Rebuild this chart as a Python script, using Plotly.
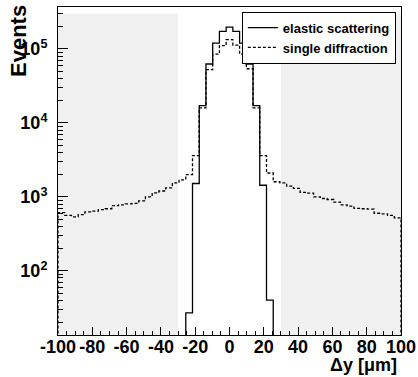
import numpy as np
import plotly.graph_objects as go

# ---- data -------------------------------------------------------------
x_min, x_max, n_bins = -100.0, 100.0, 51

elastic_counts = [0] * 19 + [
    27, 1515, 17100, 62700, 120000, 173000, 198000,
    173000, 120000, 62700, 17100, 1435, 40] + [0] * 19

diffraction_counts = [
    610, 560, 537, 575, 625, 640, 670, 690, 760, 780, 805, 815, 880, 1000,
    1130, 1200, 1320, 1540,
    1700, 2000, 3600, 16000, 52500, 85000, 111000, 134000, 113000, 85000,
    54000, 16000, 3600, 2100, 1600,
    1540, 1400, 1300, 1150, 1120, 1000, 950, 920, 850, 780, 750, 700, 690,
    680, 600, 590, 560, 520]

series_names = ["elastic scattering", "single diffraction"]
x_tick_vals = [-100, -80, -60, -40, -20, 0, 20, 40, 60, 80, 100]
x_tick_text = ["-100", "-80", "-60", "-40", "-20", "0", "20", "40", "60", "80", "100"]
y_tick_vals = [1e2, 1e3, 1e4, 1e5]
y_tick_text = ["10<sup>2</sup>", "10<sup>3</sup>", "10<sup>4</sup>", "10<sup>5</sup>"]
shaded_ranges = [(-100, -30), (30, 100)]

# ---- helpers ------------------------------------------------------------
edges = np.linspace(x_min, x_max, n_bins + 1)
FLOOR = 1.0  # below the visible range; used for empty bins


def step_xy(values):
    xs, ys = [edges[0]], [FLOOR]
    for i, v in enumerate(values):
        v = v if v > 0 else FLOOR
        xs += [edges[i], edges[i + 1]]
        ys += [v, v]
    xs.append(edges[-1])
    ys.append(FLOOR)
    return xs, ys


FONT = "Liberation Sans, Arial, Helvetica, sans-serif"

fig = go.Figure()

ex, ey = step_xy(elastic_counts)
fig.add_trace(go.Scatter(x=ex, y=ey, mode="lines", name="<b>" + series_names[0] + "</b>",
                         line=dict(color="black", width=1.3)))
dx, dy = step_xy(diffraction_counts)
fig.add_trace(go.Scatter(x=dx, y=dy, mode="lines", name="<b>" + series_names[1] + "</b>",
                         line=dict(color="black", width=1.3, dash="3px,2px")))

for a, b in shaded_ranges:
    fig.add_shape(type="rect", xref="x", yref="paper", x0=a, x1=b, y0=0, y1=0.98,
                  fillcolor="#f0f0f0", line=dict(width=0), layer="below")

y_lo, y_hi = 1.131, 5.568

fig.update_layout(
    width=418, height=377,
    margin=dict(l=58, r=17, t=7, b=42, autoexpand=False),
    paper_bgcolor="white", plot_bgcolor="white",
    font=dict(family=FONT, size=18, color="black", weight="bold"),
    showlegend=True,
    legend=dict(x=0.985, y=0.986, xanchor="right", yanchor="top",
                bgcolor="white", bordercolor="black", borderwidth=1,
                font=dict(family=FONT, size=13, color="black", weight="bold"),
                tracegroupgap=0, itemwidth=30),
    xaxis=dict(range=[x_min, x_max], showgrid=False, zeroline=False, automargin=False,
               showline=True, linecolor="black", linewidth=1, mirror=True,
               ticks="inside", ticklen=8, tickwidth=1, tickcolor="black",
               tickmode="array", tickvals=x_tick_vals, ticktext=x_tick_text,
               ticklabelstandoff=-5,
               minor=dict(ticks="inside", ticklen=4, tickcolor="black",
                          tickmode="linear", tick0=-100, dtick=5, showgrid=False)),
    yaxis=dict(type="log", range=[y_lo, y_hi], showgrid=False, zeroline=False, automargin=False,
               showline=True, linecolor="black", linewidth=1, mirror=True,
               ticks="inside", ticklen=10, tickwidth=1, tickcolor="black",
               tickmode="array", tickvals=y_tick_vals, ticktext=y_tick_text,
               ticklabelstandoff=6,
               minor=dict(ticks="inside", ticklen=5, tickcolor="black",
                          tickmode="array",
                          tickvals=[m * 10 ** e for e in range(1, 6) for m in range(2, 10)],
                          showgrid=False)),
)

fig.add_annotation(text="<b>Δy [μm]</b>", xref="paper", yref="paper", x=0.995, y=-0.09,
                   xanchor="right", yanchor="middle", showarrow=False,
                   font=dict(family=FONT, size=18, color="black"))
fig.add_annotation(text="<b>Events</b>", xref="paper", yref="paper", x=-0.115, y=0.895,
                   xanchor="center", yanchor="middle", textangle=-90, showarrow=False,
                   font=dict(family=FONT, size=22, color="black"))

fig.write_html("out.html", config={"displayModeBar": False},
               post_script="document.body.style.margin='0';document.body.style.padding='0';")
